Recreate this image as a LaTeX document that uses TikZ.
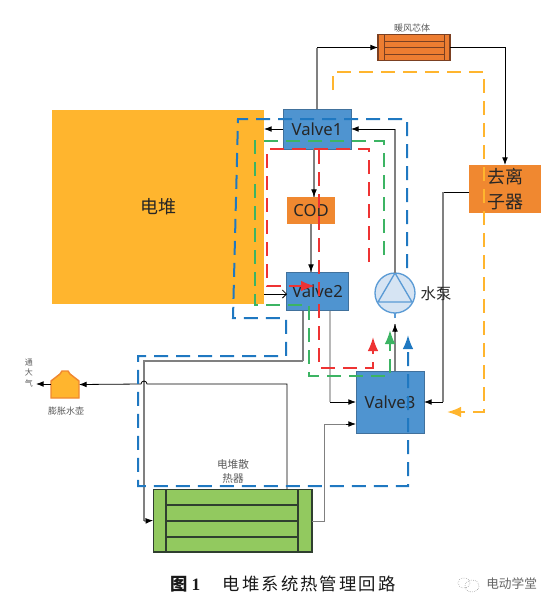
\documentclass[tikz,border=0pt]{standalone}
\usepackage{fontspec}
\usepackage{xcolor}
\setmainfont{Noto Sans}
\newfontfamily\cjk{Noto Sans CJK SC}
\newfontfamily\capcjk[LetterSpace=12]{Noto Sans CJK SC}
\newfontfamily\capnum{Liberation Serif}
\usetikzlibrary{arrows.meta}
\definecolor{stackyellow}{HTML}{FFB52E}
\definecolor{valveblue}{HTML}{4F94D0}
\definecolor{valveedge}{HTML}{41719C}
\definecolor{boxorange}{HTML}{F08830}
\definecolor{coreorange}{HTML}{ED7D31}
\definecolor{coreedge}{HTML}{7B4022}
\definecolor{radgreen}{HTML}{92C95F}
\definecolor{radedge}{HTML}{2F3F2F}
\definecolor{pumpblue}{HTML}{5B9BD5}
\definecolor{pumpfill}{HTML}{D6E4F3}
\definecolor{dashblue}{HTML}{1F78C1}
\definecolor{dashgreen}{HTML}{3CB463}
\definecolor{dashred}{HTML}{EE3333}
\definecolor{dashyellow}{HTML}{FFB52E}
\tikzset{
  box/.style={inner sep=0pt,outer sep=0pt,text=black!85},
  valvebox/.style={box,fill=valveblue,draw=valveedge,line width=0.7pt,font=\fontsize{12.5}{15}\selectfont},
  pipe/.style={line width=0.6pt,black},
  pipegrey/.style={line width=1pt,black!50},
  pipelight/.style={line width=1pt,black!28},
  flow/.style={line width=1.5pt,dash pattern=on 10.5pt off 6pt},
  flowtip/.style={-{Latex[length=10.5pt,width=8pt]}},
  smalltext/.style={inner sep=0pt,text=black!65,font=\cjk\fontsize{6.75}{10}\selectfont,align=center},
}
\begin{document}
\begin{tikzpicture}[>=Latex,x=0.75pt,y=-0.75pt]
  \useasboundingbox (0,0) rectangle (554,608);

  \node[box,fill=stackyellow,minimum width=159pt,minimum height=145.5pt,font=\cjk\fontsize{13.5}{16}\selectfont] (stack) at (158,207) {电堆};
  \node[valvebox,minimum width=51pt,minimum height=30pt] (valveone) at (317,129) {Valve1};
  \node[box,fill=boxorange,minimum width=36pt,minimum height=20pt,font=\fontsize{12.5}{15}\selectfont] (cod) at (311,210.5) {COD};
  \node[valvebox,minimum width=46pt,minimum height=29pt] (valvetwo) at (317.5,291.5) {Valve2};
  \node[valvebox,minimum width=51pt,minimum height=46.5pt] (valvethree) at (390,402) {Valve3};
  \node[box,fill=boxorange,minimum width=54pt,minimum height=36pt,align=center,font=\cjk\fontsize{13.5}{18.75}\selectfont] (deion) at (505,189) {去离\\子器};
  \node[box,fill=coreorange,draw=coreedge,line width=0.9pt,minimum width=54pt,minimum height=20pt] (core) at (414,47.5) {};
  \node[box,fill=radgreen,draw=radedge,line width=1pt,minimum width=119pt,minimum height=47pt] (radiator) at (232.5,520.5) {};
  \node[circle,inner sep=0pt,outer sep=0pt,fill=pumpfill,draw=pumpblue,line width=1pt,minimum size=30pt] (pump) at (395,293) {};
  \node[inner sep=0pt,outer sep=0pt,minimum width=21pt,minimum height=20pt] (tank) at (65,384.5) {};

  \draw[coreedge,line width=0.7pt] (384,34) -- (384,61) (444,34) -- (444,61) (384,41) -- (444,41) (384,47.5) -- (444,47.5) (384,54) -- (444,54);
  \draw[radedge,line width=0.8pt] (166,489) -- (166,552) (298,489) -- (298,552) (166,505) -- (298,505) (166,521) -- (298,521) (166,537) -- (298,537);
  \draw[pumpblue,line width=1pt] (395,273) -- (378,302) -- (412,302) -- cycle;
  \draw[boxorange,line width=1.1pt,fill=stackyellow] (51,398) -- (51,381) -- (60,374) -- (62,371) -- (68,371) -- (70,374) -- (79,381) -- (79,398) -- cycle;

  \coordinate (coreup) at (valveone.north |- core.west);
  \coordinate (deionout) at (469,192);
  \coordinate (deionturn) at (443,192);
  \coordinate (deiondown) at (443,402);
  \coordinate (pumpup) at (395,129);
  \coordinate (stackout) at (264,294);
  \coordinate (valvetwoin) at (287,294);
  \coordinate (codin) at (314,197);
  \coordinate (codup) at (314,149);
  \coordinate (codout) at (311,224);
  \coordinate (valvetwotop) at (311,272);
  \coordinate (leftout) at (303,311);
  \coordinate (leftturn) at (303,361);
  \coordinate (leftback) at (144,361);
  \coordinate (leftdown) at (144,521);
  \coordinate (rightout) at (330,311);
  \coordinate (rightdown) at (330,402);
  \coordinate (radtop) at (287,489);
  \coordinate (radturn) at (287,384);
  \coordinate (hump) at (147,384);
  \coordinate (radout) at (312,521);
  \coordinate (radright) at (324,521);
  \coordinate (radup) at (324,424);
  \coordinate (radnear) at (346,424);
  \coordinate (valvethreein) at (356,424);
  \coordinate (valvethreetop) at (395,371);
  \coordinate (pumpin) at (395,324);
  \coordinate (air) at (36,384);

  \draw[pipegrey] (valveone.north) -- (coreup);
  \draw[pipe,->] (coreup) -- (core.west);
  \draw[pipe,->] (core.east) -| (deion.north);
  \draw[pipe] (deionout) -- (deionturn);
  \draw[pipegrey] (deionturn) -- (deiondown);
  \draw[pipe,->] (deiondown) -- (valvethree.east);
  \draw[pipe,->] (valveone.west) -- (stack.east |- valveone.west);
  \draw[pipegrey] (pump.north) -- (pumpup);
  \draw[pipe,->] (pumpup) -- (valveone.east);
  \draw[pipegrey] (valveone.south -| codup) -- (codin);
  \draw[pipe,->] (codin |- 0,190) -- (codin);
  \draw[pipegrey] (codout) -- (valvetwotop);
  \draw[pipe,->] (valvetwotop |- 0,265) -- (valvetwotop);
  \draw[pipe,-{Straight Barb[length=3pt]}] (stackout) -- (valvetwoin);
  \draw[pipegrey] (leftout) -- (leftturn);
  \draw[pipegrey] (leftturn) -- (leftback) -- (leftdown);
  \draw[pipe,->] (leftdown) -- (radiator.west);
  \draw[pipelight] (rightout) -- (rightdown);
  \draw[pipe,->] (rightdown) -- (valvethree.west);
  \draw[pipe,->] (radtop) -- (radturn) -- (hump) arc (0:-180:3) -- (tank.east);
  \draw[pipe,->] (tank.west |- air) -- (air);
  \draw[pipegrey,line width=0.7pt] (radout) -- (radright) -- (radup) -- (radnear);
  \draw[pipe,->] (radnear) -- (valvethreein);
  \draw[pipegrey] (valvethreetop) -- (pumpin);
  \draw[pipe,->] (395,331) -- (pumpin);
  \draw[pumpblue,line width=0.8pt] (395,318) -- (pump.south);

  \coordinate (bluestart) at (407,268);
  \coordinate (blueend) at (408,335);
  \coordinate (greenstart) at (384,255);
  \coordinate (greenend) at (390,330);
  \coordinate (redstart) at (369,262);
  \coordinate (redend) at (315,286);
  \coordinate (redtwostart) at (319,150);
  \coordinate (redtwoend) at (373,337);
  \coordinate (yellowstart) at (333,90);
  \coordinate (yellowend) at (447,412);

  \draw[flow,dashblue,flowtip] (bluestart) -- (407,119) -- (238,119) -- (233,318) -- (286,318) -- (286,356) -- (138,356) -- (138,486) -- (408,486) -- (blueend);
  \draw[flow,dashgreen,flowtip] (greenstart) -- (384,141) -- (255,141) -- (255,305) -- (309,305) -- (309,376) -- (390,376) -- (greenend);
  \draw[flow,dashred,flowtip] (redstart) -- (369,149) -- (267,149) -- (267,286) -- (redend);
  \draw[flow,dashred,flowtip] (redtwostart) -- (319,368) -- (373,368) -- (redtwoend);
  \draw[flow,dashyellow,flowtip] (yellowstart) -- (333,72) -- (484,72) -- (484,412) -- (yellowend);

  \node[inner sep=0pt,text=black!85,font=\cjk\fontsize{11.5}{14}\selectfont] (pumplabel) at (436,294) {水泵};
  \node[smalltext] (corelabel) at (412,28) {暖风芯体};
  \node[smalltext,font=\cjk\fontsize{8}{10.5}\selectfont] (radlabel) at (233,471) {电堆散\\热器};
  \node[smalltext] (tanklabel) at (66,411) {膨胀水壶};
  \node[smalltext,font=\cjk\fontsize{6}{8}\selectfont] (airlabel) at (29,373) {通\\大\\气};

  \node[inner sep=0pt,anchor=west,text=black!90,font=\fontsize{13}{16}\selectfont] (caption) at (170,584) {{\cjk\bfseries 图}\hspace{3pt}{\capnum\bfseries 1}\hspace{17pt}{\capcjk 电堆系统热管理回路}};
  \draw[black!50,line width=0.4pt,densely dotted] (464,583) ellipse (6 and 5) (472,586) ellipse (7 and 6);
  \node[inner sep=0pt,anchor=west,text=black!60,font=\cjk\fontsize{9.5}{12}\selectfont] (mark) at (486,584) {电动学堂};
\end{tikzpicture}
\end{document}
